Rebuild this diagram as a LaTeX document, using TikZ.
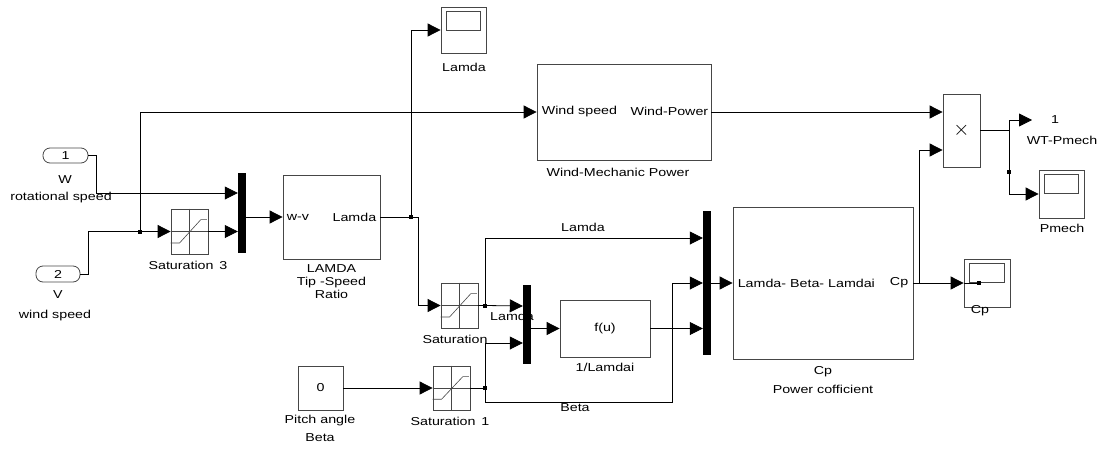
\documentclass[tikz,border=0pt]{standalone}
\usepackage{fontspec}
\setmainfont{Liberation Sans}[FakeStretch=1.24]
\usetikzlibrary{arrows.meta,calc,positioning}
\definecolor{blkline}{RGB}{70,70,70}

\tikzset{
  blk/.style={draw=blkline,line width=0.8pt,inner sep=0pt},
  inport/.style={blk,rounded corners=7pt},
  muxbar/.style={fill=black,inner sep=0pt,minimum width=8pt},
  sig/.style={line width=0.8pt,-{Triangle[length=13pt,width=13pt]}},
  wire/.style={line width=0.8pt},
  lbl/.style={inner sep=0pt,align=center},
}
% saturation icon inside a block
\newcommand{\satIcon}[1]{%
  \draw[blkline,line width=0.6pt] (#1.north) -- (#1.south);
  \draw[blkline,line width=0.6pt] (#1.west) -- (#1.east);
  \draw[blkline,line width=0.6pt]
    ($(#1.south west)!0.25!(#1.north west)$) -- ++(9,0)
    -- ($(#1.north west)!0.8!(#1.north east)+(0,11)$) -- ++(6,0);
}
% scope icon inside a block
\newcommand{\scopeIcon}[1]{%
  \draw[blkline,line width=0.8pt] ($(#1.north west)+(6,5)$) rectangle ($(#1.north east)+(-6,24)$);
}

\begin{document}
\begin{tikzpicture}[x=1pt,y=-1pt,font=\fontsize{11.5}{13}\selectfont]
  \useasboundingbox (0,0) rectangle (1101,450);

  % inputs
  \node[inport,minimum width=45pt,minimum height=15pt] (in1) at (65.5,155.5) {1};
  \node[lbl] at (65,180) {W};
  \node[lbl] at (61,198) {rotational speed};
  \node[inport,minimum width=44pt,minimum height=16pt] (in2) at (58,274) {2};
  \node[lbl] at (58,295) {V};
  \node[lbl] at (55,316) {wind speed};

  % saturation 3 and mux
  \node[blk,minimum width=37pt,minimum height=45pt] (sat3) at (189.5,231.5) {};
  \satIcon{sat3}
  \node[lbl] at (188,265) {Saturation \,3};
  \node[muxbar,minimum height=80pt] (mux1) at (242,213) {};

  % tip speed ratio
  \node[blk,minimum width=97pt,minimum height=84pt] (lamda) at (331.5,217) {};
  \node[lbl,anchor=west] at ([xshift=4pt]lamda.west) {w-v};
  \node[lbl,anchor=east] at ([xshift=-4pt]lamda.east) {Lamda};
  \node[lbl,below=5pt of lamda] {LAMDA\\Tip -Speed\\Ratio};

  % lamda scope
  \node[blk,minimum width=45pt,minimum height=46pt] (scLam) at (463.5,30) {};
  \scopeIcon{scLam}
  \node[lbl] at (464,67) {Lamda};

  % wind power
  \node[blk,minimum width=174pt,minimum height=96pt] (wmp) at (624,112) {};
  \node[lbl,anchor=west] at ([xshift=5pt]wmp.west) {Wind speed};
  \node[lbl,anchor=east] at ([xshift=-3pt,yshift=1pt]wmp.east) {Wind-Power};
  \node[lbl] at (618,172) {Wind-Mechanic Power};

  % product and outputs
  \node[blk,minimum width=37pt,minimum height=73pt,font=\fontsize{20}{20}\selectfont] (prod) at (961.5,130.5) {$\times$};
  \coordinate (out1) at (1032,120);
  \node[lbl] at (1055,120) {1};
  \node[lbl] at (1062,140) {WT-Pmech};
  \node[blk,minimum width=45pt,minimum height=48pt] (scPm) at (1061.5,194) {};
  \scopeIcon{scPm}
  \node[lbl] at (1062,228) {Pmech};

  % lower part
  \node[blk,minimum width=37pt,minimum height=45pt] (sat) at (459.5,305.5) {};
  \satIcon{sat}
  \node[lbl] at (455,339) {Saturation};
  \node[blk,minimum width=45pt,minimum height=44pt] (const) at (320.5,388) {0};
  \node[lbl] at (320,421) {Pitch angle};
  \node[lbl] at (320,438) {Beta};
  \node[blk,minimum width=37pt,minimum height=44pt] (sat1) at (451.5,388) {};
  \satIcon{sat1}
  \node[lbl] at (450,421) {Saturation \,1};
  \node[muxbar,minimum height=79pt] (mux2) at (527,324.5) {};
  \node[blk,minimum width=90pt,minimum height=57pt] (fu) at (605,328.5) {f(u)};
  \node[lbl] at (605,367) {1/Lamdai};
  \node[muxbar,minimum height=144pt] (mux3) at (707,283) {};
  \node[blk,minimum width=180pt,minimum height=152pt] (cpb) at (823,283) {};
  \node[lbl,anchor=west] at ([xshift=5pt]cpb.west) {Lamda- Beta- Lamdai};
  \node[lbl,anchor=east] at ([xshift=-5pt]cpb.east) {Cp};
  \node[lbl] at (823,372) {Cp};
  \node[lbl] at (823,389) {Power cofficient};
  \node[blk,minimum width=46pt,minimum height=48pt] (scCp) at (987,283) {};
  \scopeIcon{scCp}
  \node[lbl] at (980,311) {Cp};

  % branch points
  \coordinate (j1) at (140,231.5);
  \coordinate (j2) at (411,217);
  \coordinate (j3) at (485,305.5);
  \coordinate (j4) at (485,388);
  \coordinate (j5) at (919,283);
  \coordinate (j6) at (1009,130.5);
  \foreach \j in {j1,j2,j3,j4}
    \fill (\j) +(-2,-2) rectangle +(2,2);
  \fill (1009,172) +(-2,-2) rectangle +(2,2);

  % signals
  \draw[sig] (in1.east) -- ++(8,0) |- ([yshift=20pt]mux1.west);
  \draw[wire] (in2.east) -- ++(8,0) |- (j1);
  \draw[sig] (j1) -- (sat3.west);
  \draw[sig] (j1) |- (wmp.west);
  \draw[sig] (sat3.east) -- ([yshift=-18.5pt]mux1.west);
  \draw[sig] (mux1.east |- lamda.west) -- (lamda.west);
  \draw[wire] (lamda.east) -- (j2);
  \draw[sig] (j2) |- (scLam.west);
  \draw[sig] (j2) -- ++(7,0) |- (sat.west);
  \draw[wire] (sat.east) -- (j3);
  \draw[sig] (j3) |- ([yshift=45pt]mux3.west);
  \node[lbl] at (583,227) {Lamda};
  \draw[sig] (j3) -- ([yshift=18.5pt]mux2.west);
  \node[lbl] at (512,316) {Lamda};
  \draw[sig] (mux2.east |- fu.west) -- (fu.west);
  \draw[sig] (fu.east) -- (fu.east -| mux3.west);
  \draw[sig] (const.east) -- (sat1.west);
  \draw[wire] (sat1.east) -- (j4);
  \draw[sig] (j4) |- ([yshift=-18.5pt]mux2.west);
  \draw[sig] (j4) -- ++(0,14) -- ++(187,0) |- (mux3.west);
  \node[lbl] at (575,408) {Beta};
  \draw[sig] (mux3.east) -- (cpb.west);
  \draw[wire] (cpb.east) -- (j5);
  \draw[sig] (j5) -- (scCp.west);
  \draw[wire] (scCp.west) -- ++(15,0);
  \fill ($(scCp.west)+(15,0)$) +(-2,-2) rectangle +(2,2);
  \draw[sig] (j5) |- ([yshift=-19.5pt]prod.west);
  \draw[sig] (wmp.east) -- (wmp.east -| prod.west);
  \draw[wire] (prod.east) -- (j6);
  \draw[sig] (j6) |- (out1);
  \draw[sig] (j6) |- (scPm.west);
\end{tikzpicture}
\end{document}
